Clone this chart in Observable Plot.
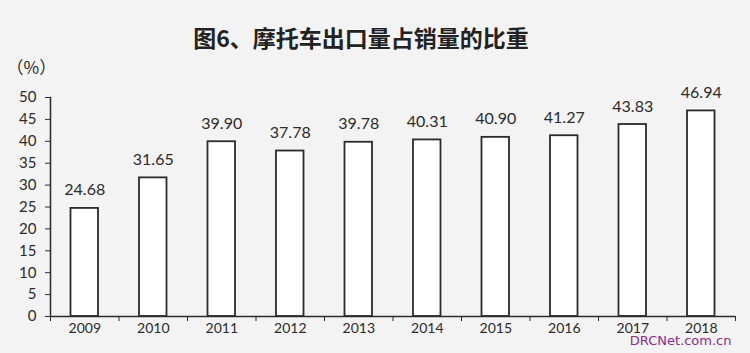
<!DOCTYPE html>
<html>
<head>
<meta charset="utf-8">
<script src="https://cdn.jsdelivr.net/npm/d3@7"></script>
<script src="https://cdn.jsdelivr.net/npm/@observablehq/plot@0.6"></script>
<style>
  html, body { margin: 0; padding: 0; background: #f3f3f3; }
  #chart svg { display: block; }
</style>
</head>
<body>
<div id="chart"></div>
<script>
// Share of motorcycle exports in total sales, 2009–2018 (%)
const years = [2009, 2010, 2011, 2012, 2013, 2014, 2015, 2016, 2017, 2018];
const shares = [24.68, 31.65, 39.90, 37.78, 39.78, 40.31, 40.90, 41.27, 43.83, 46.94];
const yTicks = [0, 5, 10, 15, 20, 25, 30, 35, 40, 45, 50];
const titleText = "图6、摩托车出口量占销量的比重";
const unitText = "（%）";
const sourceText = "DRCNet.com.cn";

const data = years.map((year, i) => ({year, share: shares[i]}));
const bounds = d3.range(years[0] - 0.5, years[years.length - 1] + 1, 1);

const ink = "#2b2b2b";
const latin = "Lato, 'Open Sans', sans-serif";
const cjk = "'Noto Sans CJK SC', sans-serif";

const chart = Plot.plot({
  width: 750,
  height: 353,
  marginLeft: 50,
  marginRight: 15,
  marginTop: 97,
  marginBottom: 37,
  style: {background: "transparent", fontFamily: latin, fontSize: "15px", color: ink},
  x: {type: "linear", domain: [years[0] - 0.5, years[years.length - 1] + 0.5]},
  y: {domain: [0, 50]},
  marks: [
    // bars
    Plot.rectY(data, {
      x1: d => d.year - 0.5, x2: d => d.year + 0.5, y: "share",
      insetLeft: 20.5, insetRight: 20.5,
      fill: "white", stroke: ink, strokeWidth: 1.8
    }),
    // value labels
    Plot.text(data, {
      x: "year", y: "share", text: d => d.share.toFixed(2),
      lineAnchor: "bottom", dy: -13, fontSize: 16, fill: ink
    }),
    // y axis
    Plot.frame({anchor: "left", stroke: ink, strokeWidth: 1.5}),
    Plot.axisY({ticks: yTicks, tickSize: 5, tickPadding: 9, fontSize: 15, label: null, stroke: ink}),
    // x axis
    Plot.ruleY([0], {stroke: ink, strokeWidth: 1.5}),
    Plot.axisX({ticks: bounds, tickSize: 5, tickFormat: () => "", label: null, stroke: ink}),
    Plot.axisX({ticks: years, tickSize: 0, tickPadding: 7, tickFormat: d => String(d), fontSize: 14, label: null}),
    // title, unit and source
    Plot.text([titleText], {
      frameAnchor: "top", dx: -32, dy: -58, text: d => d,
      fontFamily: cjk, fontSize: 23, fontWeight: 700, fill: "#222", lineAnchor: "middle"
    }),
    Plot.text([unitText], {
      frameAnchor: "top-left", dx: -44, dy: -29, text: d => d,
      fontFamily: cjk, fontSize: 17, fill: ink, textAnchor: "start", lineAnchor: "middle",
      letterSpacing: "2px"
    }),
    Plot.text([sourceText], {
      frameAnchor: "bottom-right", dx: -4, dy: 24, text: d => d,
      fontFamily: "'DejaVu Sans', sans-serif", fontSize: 13, fill: "#8e2a8a", textAnchor: "end", lineAnchor: "middle"
    })
  ]
});

document.getElementById("chart").append(chart);
</script>
</body>
</html>
